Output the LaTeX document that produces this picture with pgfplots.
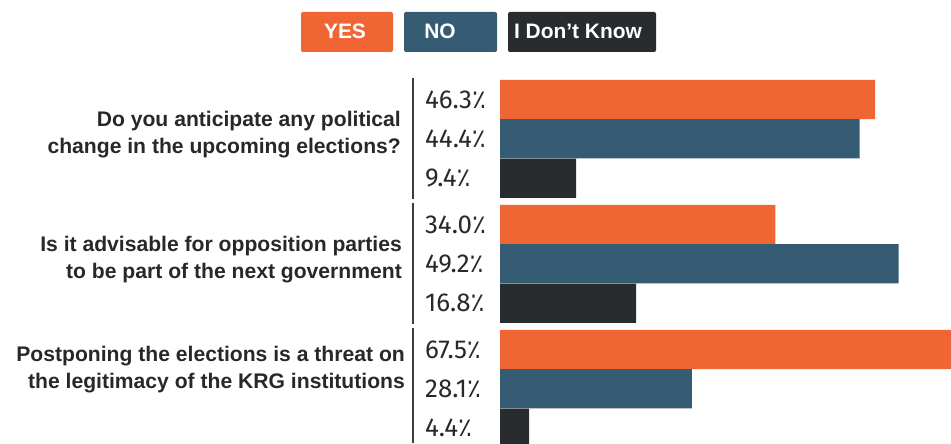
\documentclass[border=0pt]{standalone}
\usepackage{pgfplots}
\pgfplotsset{compat=1.18}
\usepackage{fontspec}
\setmainfont{Liberation Sans}
\newfontfamily\numfont{Fira Sans}
\newfontfamily\arfont[Script=Arabic]{DejaVu Sans}

\definecolor{yescol}{RGB}{240,101,52}
\definecolor{nocol}{RGB}{53,92,115}
\definecolor{dkcol}{RGB}{41,44,47}
\definecolor{linecol}{RGB}{60,60,60}
\definecolor{txtcol}{RGB}{40,40,40}

\newcommand{\pct}[1]{{\numfont #1}{\arfont ٪}}

\begin{document}
\begin{tikzpicture}
\begin{axis}[
    width=951bp, height=443bp, scale only axis,
    xmin=-61.73, xmax=55.68,
    ymin=0, ymax=443, y dir=reverse,
    hide axis,
    xbar, bar width=39.3, bar shift=0pt,
]
% bar lengths as drawn in the source (third question's NO/DK bars are drawn short there)
% YES
\addplot[fill=yescol, draw=none] coordinates {(46.3,99.5) (34.0,224.5) (67.5,349.5)};
% NO
\addplot[fill=nocol, draw=none] coordinates {(44.4,138.8) (49.2,263.8) (23.7,388.8)};
% I Don't Know
\addplot[fill=dkcol, draw=none] coordinates {(9.4,178.3) (16.8,303.3) (3.6,428.3)};
\end{axis}

\begin{scope}[shift={(0,443bp)}, x=1bp, y=-1bp]
  % fixes the page to the full picture
  \path (0,0) rectangle (951,443);

  % axis line, broken between groups
  \draw[linecol, line width=1.2bp] (413,78) -- (413,199);
  \draw[linecol, line width=1.2bp] (413,203) -- (413,324);
  \draw[linecol, line width=1.2bp] (413,328) -- (413,443);

  % legend
  \fill[yescol, rounded corners=2bp] (301,12) rectangle (393,52);
  \fill[nocol, rounded corners=2bp] (404,12) rectangle (497,52);
  \fill[dkcol, rounded corners=2bp] (508,12) rectangle (656,52);
  \begin{scope}[every node/.style={text=white, font=\fontsize{21}{22}\selectfont\bfseries, inner sep=0}]
    \node at (345,31) {YES};
    \node at (440,31) {NO};
    \node at (578,31) {I Don't Know};
  \end{scope}

  % questions
  \begin{scope}[every node/.style={anchor=east, align=right, text=txtcol, inner sep=0,
      font=\fontsize{21.2}{27}\selectfont\bfseries}]
    \node at (401,135) {Do you anticipate any political\\change in the upcoming elections?};
    \node at (402,260) {Is it advisable for opposition parties\\to be part of the next government};
    \node at (405,370) {Postponing the elections is a threat on\\the legitimacy of the KRG institutions};
  \end{scope}

  % value labels
  \begin{scope}[every node/.style={anchor=west, inner sep=0, text=txtcol,
      font=\fontsize{26}{27}\selectfont}]
    \node at (425,99.5) {\pct{46.3}};
    \node at (425,138.8) {\pct{44.4}};
    \node at (425,178.3) {\pct{9.4}};
    \node at (425,224.5) {\pct{34.0}};
    \node at (425,263.8) {\pct{49.2}};
    \node at (425,303.3) {\pct{16.8}};
    \node at (425,349.5) {\pct{67.5}};
    \node at (425,388.8) {\pct{28.1}};
    \node at (425,428.3) {\pct{4.4}};
  \end{scope}
\end{scope}
\end{tikzpicture}
\end{document}
